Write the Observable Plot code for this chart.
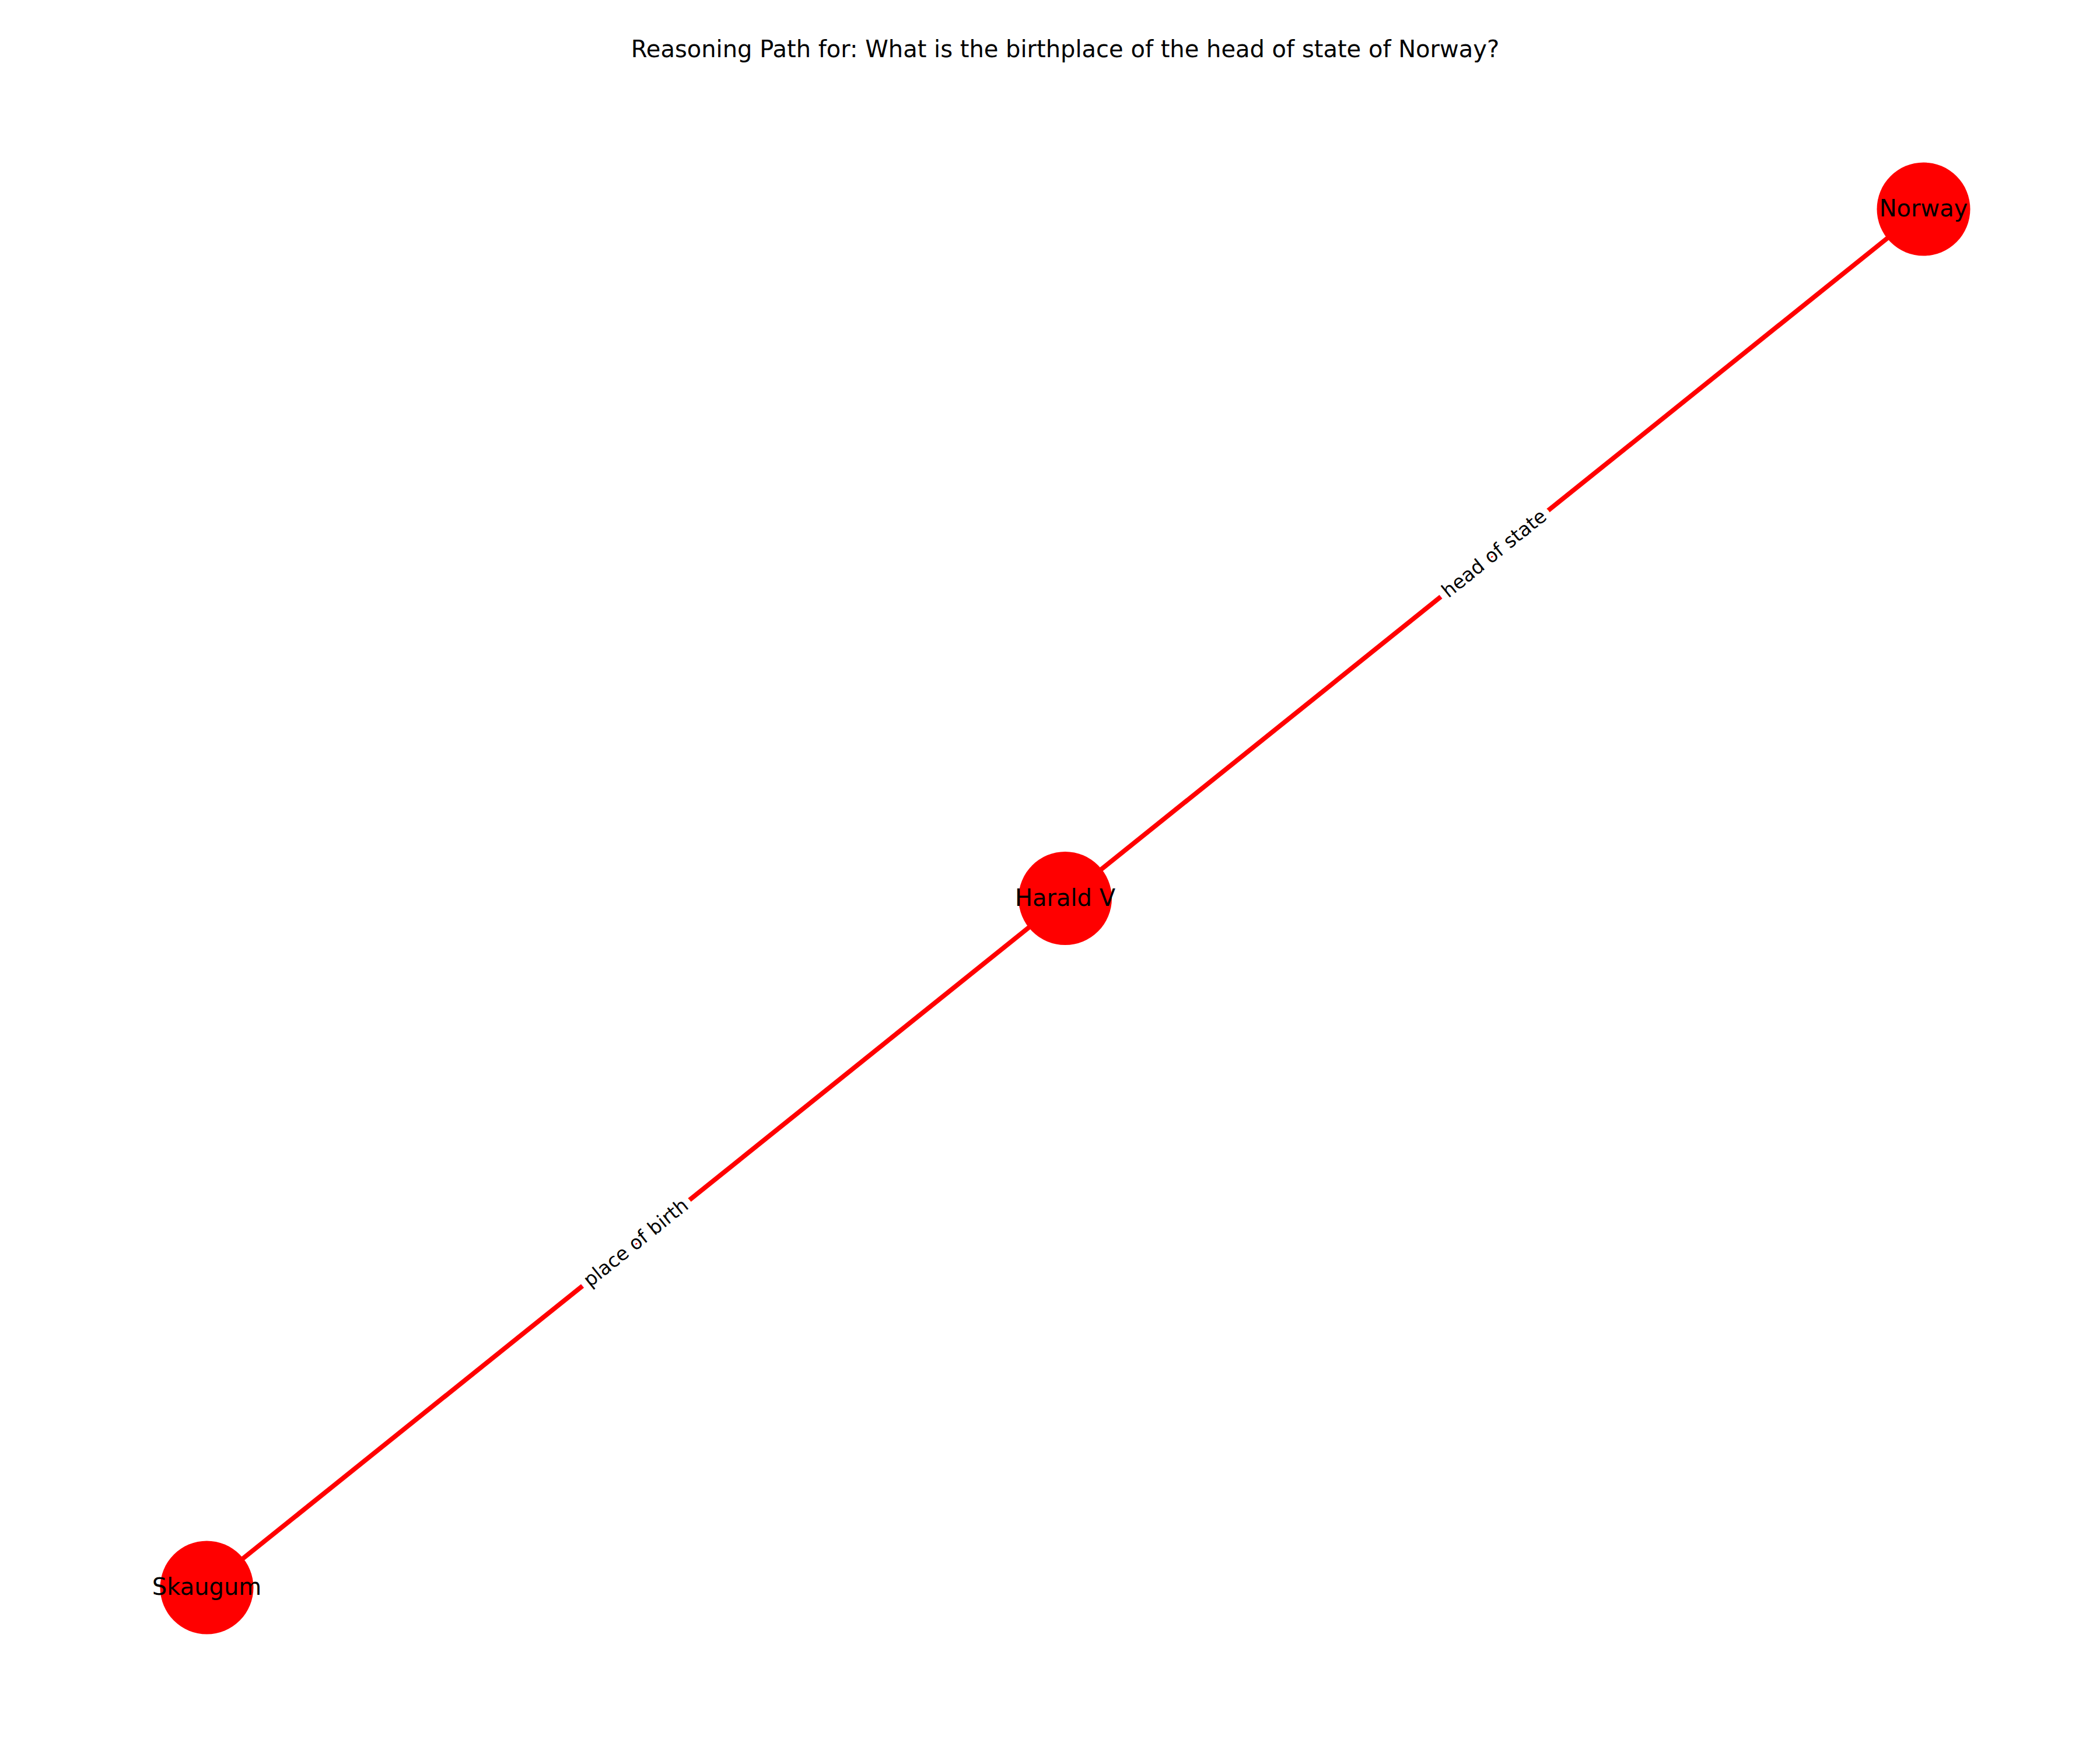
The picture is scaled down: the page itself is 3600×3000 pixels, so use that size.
<!DOCTYPE html>
<html><head><meta charset="utf-8">
<script src="https://cdn.jsdelivr.net/npm/d3@7"></script>
<script src="https://cdn.jsdelivr.net/npm/@observablehq/plot@0.6"></script>
<style>body{margin:0;background:#fff}</style>
</head><body><div id="c"></div>
<script>
const nodeNames = ["Skaugum", "Harald V", "Norway"];
const nodeX = [-1, 0, 1];
const nodeY = [-1, 0, 1];
const edgeFrom = ["Harald V", "Norway"];
const edgeTo = ["Skaugum", "Harald V"];
const edgeLabels = ["place of birth", "head of state"];
const title = "Reasoning Path for: What is the birthplace of the head of state of Norway?";

const nodes = nodeNames.map((n, i) => ({name: n, x: nodeX[i], y: nodeY[i]}));
const pos = Object.fromEntries(nodes.map(d => [d.name, d]));
const edges = edgeFrom.map((f, i) => ({x1: pos[f].x, y1: pos[f].y, x2: pos[edgeTo[i]].x, y2: pos[edgeTo[i]].y,
  mx: (pos[f].x + pos[edgeTo[i]].x) / 2, my: (pos[f].y + pos[edgeTo[i]].y) / 2, label: edgeLabels[i]}));

const chart = Plot.plot({
  width: 3600, height: 3000,
  marginLeft: 354, marginRight: 303, marginTop: 358, marginBottom: 279,
  x: {domain: [-1, 1], axis: null},
  y: {domain: [-1, 1], axis: null},
  style: {fontFamily: "DejaVu Sans", background: "white"},
  marks: [
    Plot.link(edges, {x1: "x1", y1: "y1", x2: "x2", y2: "y2", stroke: "red", strokeWidth: 8}),
    Plot.text(edges, {x: "mx", y: "my", text: "label", rotate: -38.8, fontSize: 33, fill: "black",
      stroke: "white", strokeWidth: 22, strokeLinejoin: "round"}),
    Plot.dot(nodes, {x: "x", y: "y", r: 80, fill: "red", stroke: "none"}),
    Plot.text(nodes, {x: "x", y: "y", text: "name", fontSize: 40, fill: "black"}),
    Plot.text([title], {frameAnchor: "top", dy: -289, text: d => d, fontSize: 40, fill: "black"})
  ]
});
document.getElementById("c").appendChild(chart);
</script></body></html>
